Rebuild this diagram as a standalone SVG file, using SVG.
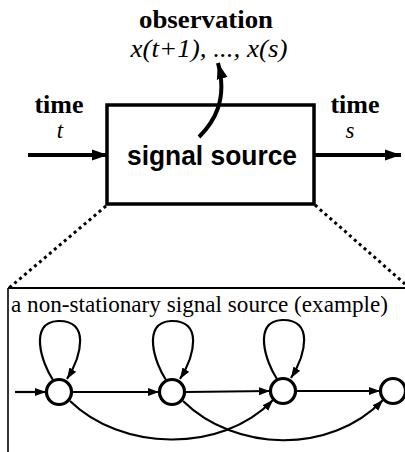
<svg xmlns="http://www.w3.org/2000/svg" width="405" height="452" viewBox="0 0 405 452">
  <style>
    .bold { font-family: "Liberation Serif", "DejaVu Serif", serif; font-weight: bold; font-size: 26px; fill: #000; }
    .ital { font-family: "Liberation Serif", "DejaVu Serif", serif; font-style: italic; font-size: 26px; fill: #000; }
    .small-ital { font-family: "Liberation Serif", "DejaVu Serif", serif; font-style: italic; font-size: 23px; fill: #000; }
    .sans { font-family: "Liberation Sans", Arial, sans-serif; font-weight: bold; font-size: 27px; fill: #000; }
    .serif { font-family: "Liberation Serif", "DejaVu Serif", serif; font-size: 23px; fill: #000; }
    .thick { fill: none; stroke: #000; stroke-width: 4; }
    .thin { fill: none; stroke: #000; stroke-width: 2.2; }
    .dots { fill: none; stroke: #000; stroke-width: 3; stroke-dasharray: 3 3.5; }
    .state { fill: #fff; stroke: #000; stroke-width: 3.2; }
  </style>
  <defs>
    <marker id="bigHead" markerUnits="userSpaceOnUse" markerWidth="18" markerHeight="12" refX="16" refY="6" orient="auto">
      <path d="M0,0.5 L16,6 L0,11.5 z" fill="#000"/>
    </marker>
    <marker id="smallHead" markerUnits="userSpaceOnUse" markerWidth="12" markerHeight="10" refX="11" refY="4" orient="auto">
      <path d="M0,0 L11,4 L0,8 z" fill="#000"/>
    </marker>
  </defs>

  <rect width="405" height="452" fill="#fff"/>

  <!-- top level: the signal source block -->
  <g id="source">
    <rect x="107" y="105" width="207" height="99" fill="none" stroke="#000" stroke-width="3.5"/>
    <text class="sans" x="127" y="165" textLength="170" lengthAdjust="spacingAndGlyphs">signal source</text>
  </g>
  <g id="label-observation">
    <text class="bold" x="206" y="28" text-anchor="middle" textLength="134" lengthAdjust="spacingAndGlyphs">observation</text>
    <text class="ital" x="209" y="57" text-anchor="middle" textLength="157" lengthAdjust="spacingAndGlyphs">x(t+1), ..., x(s)</text>
  </g>
  <g id="label-time-in">
    <text class="bold" x="59" y="113" text-anchor="middle">time</text>
    <text class="small-ital" x="60" y="138" text-anchor="middle">t</text>
  </g>
  <g id="label-time-out">
    <text class="bold" x="355" y="113" text-anchor="middle">time</text>
    <text class="small-ital" x="350" y="138" text-anchor="middle">s</text>
  </g>

  <!-- detail panel -->
  <g id="detail-panel">
    <line x1="8" y1="288" x2="405" y2="288" stroke="#000" stroke-width="2"/>
    <line x1="8" y1="288" x2="8" y2="452" stroke="#000" stroke-width="1.6"/>
    <text class="serif" x="11" y="312" textLength="377" lengthAdjust="spacingAndGlyphs">a non-stationary signal source (example)</text>
  </g>

  <g id="s1"><circle class="state" cx="59" cy="392" r="12.5"/></g>
  <g id="s2"><circle class="state" cx="172" cy="392" r="12.5"/></g>
  <g id="s3"><circle class="state" cx="283" cy="391" r="12.5"/></g>
  <g id="s4"><circle class="state" cx="393" cy="391" r="12.5"/></g>

  <g id="connectors">
    <!-- top level -->
    <line class="thick" x1="28" y1="155" x2="108" y2="155" marker-end="url(#bigHead)"/>
    <line class="thick" x1="314" y1="155" x2="401" y2="155" marker-end="url(#bigHead)"/>
    <path class="thick" stroke-width="3.5" d="M199,137 C214,122 228,100 218,63" marker-end="url(#bigHead)"/>
    <line class="dots" x1="106" y1="206" x2="9" y2="288"/>
    <line class="dots" x1="315" y1="205" x2="405" y2="284"/>

    <!-- state transitions -->
    <line class="thin" x1="15" y1="392" x2="46" y2="392" marker-end="url(#smallHead)"/>
    <line class="thin" x1="73" y1="392" x2="159" y2="392" marker-end="url(#smallHead)"/>
    <line class="thin" x1="186" y1="392" x2="270" y2="391" marker-end="url(#smallHead)"/>
    <line class="thin" x1="297" y1="391" x2="380" y2="391" marker-end="url(#smallHead)"/>

    <path class="thin" d="M53,380 C42,364 28,322 58,321 C90,320 82,355 67,379" marker-end="url(#smallHead)"/>
    <path class="thin" d="M166,380 C155,364 141,322 171,321 C203,320 195,355 180,379" marker-end="url(#smallHead)"/>
    <path class="thin" d="M277,379 C266,363 252,321 282,320 C314,319 306,354 291,378" marker-end="url(#smallHead)"/>

    <path class="thin" d="M70,401 C120,450 220,455 273,400" marker-end="url(#smallHead)"/>
    <path class="thin" d="M183,401 C235,452 330,455 383,400" marker-end="url(#smallHead)"/>
  </g>
</svg>
